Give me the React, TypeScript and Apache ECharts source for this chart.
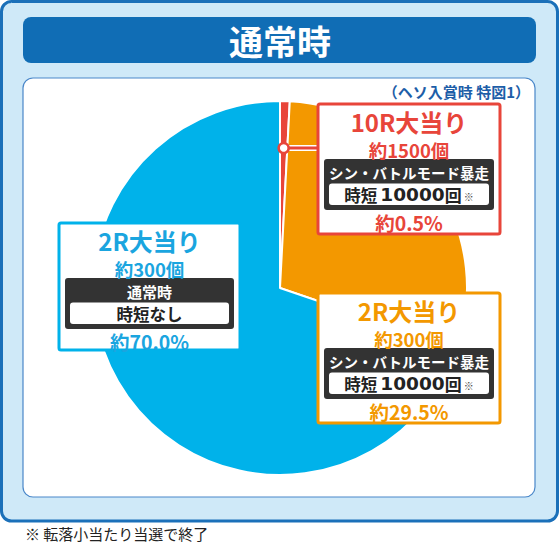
import React, { useEffect, useRef } from 'react';
import * as echarts from 'echarts';

const titleText = '通常時';
const subtitleText = '（ヘソ入賞時 特図1）';
const footnoteText = '※ 転落小当たり当選で終了';

// slice order: clockwise from 12 o'clock
const categories = ['10R大当り', '2R大当り', '2R大当り'];
const payouts = ['約1500個', '約300個', '約300個'];
const modes = ['シン・バトルモード暴走', 'シン・バトルモード暴走', '通常時'];
const jitanCounts: (number | null)[] = [10000, 10000, null];
const shares = [0.5, 29.5, 70.0];
const colors = ['#e8453a', '#f39800', '#00b2ea'];
const textColors = ['#e8453a', '#f39800', '#1aa5df'];

const CJK = "'Noto Sans CJK JP', 'Noto Sans', sans-serif";
const CX = 280;
const CY = 288;
const R = 187;
const MIN_ANGLE = 3;

function txt(x: number, y: number, text: string, size: number, fill: string, weight: any = 'bold', align = 'center', z = 12) {
  return {
    type: 'text',
    x,
    y,
    z,
    silent: true,
    style: { text, fontSize: size, lineHeight: Math.round(size * 0.95), fontWeight: weight, fontFamily: CJK, fill, align, verticalAlign: 'middle' },
  };
}

function jitanLabel(i: number, x: number, y: number) {
  const c = jitanCounts[i];
  if (c === null) return txt(x, y + 0.5, '時短なし', 16.5, '#222');
  return {
    type: 'text',
    x,
    y,
    z: 12,
    silent: true,
    style: {
      text: `{k|時短}{n|${c}}{h|回}{m|※}`,
      align: 'center',
      verticalAlign: 'middle',
      lineHeight: 17,
      rich: {
        k: { fontSize: 16.5, lineHeight: 17, fontWeight: 'bold', fontFamily: CJK, fill: '#222' },
        n: { fontSize: 18.5, lineHeight: 17, fontWeight: 'bold', fontFamily: "'DejaVu Sans', sans-serif", fill: '#222', padding: [0, 0, 0, 3] },
        h: { fontSize: 17, lineHeight: 17, fontWeight: 'bold', fontFamily: CJK, fill: '#222' },
        m: { fontSize: 10, lineHeight: 10, fontFamily: CJK, fill: '#444', padding: [4, 0, 0, 2] },
      },
    },
  };
}

function buildBox(i: number, bx: number, by: number, bw: number, bh: number) {
  const cx = bx + bw / 2;
  const color = colors[i];
  const tc = textColors[i];
  return [
    { type: 'rect', z: 10, silent: true, shape: { x: bx, y: by, width: bw, height: bh, r: 2 }, style: { fill: '#fff', stroke: color, lineWidth: 3 } },
    txt(cx, by + 17, categories[i], 24, tc),
    txt(cx, by + 45.5, payouts[i], 18.5, tc),
    { type: 'rect', z: 11, silent: true, shape: { x: bx + 6, y: by + 55, width: bw - 12, height: 51, r: 3 }, style: { fill: '#333333' } },
    txt(cx, by + 68.5, modes[i], i === 2 ? 15 : 14.5, '#fff'),
    { type: 'rect', z: 11, silent: true, shape: { x: bx + 11, y: by + 79.5, width: bw - 22, height: 21.5, r: 3 }, style: { fill: '#fff' } },
    jitanLabel(i, cx, by + 90.5),
    txt(cx, by + 118.5, `約${shares[i].toFixed(1)}%`, 19.5, tc),
  ];
}

export default function App() {
  const ref = useRef<HTMLDivElement>(null);
  useEffect(() => {
    const chart = echarts.init(ref.current!, undefined, { renderer: 'svg' });
    const redAngle = Math.max(shares[0] * 3.6, MIN_ANGLE);
    const midRad = ((redAngle / 2) * Math.PI) / 180;
    const mr = 140;
    const markerX = CX + mr * Math.sin(midRad);
    const markerY = CY - mr * Math.cos(midRad);

    const elements: any[] = [
      { type: 'rect', z: 0, silent: true, shape: { x: 1.5, y: 1.5, width: 556, height: 519.5, r: 10 }, style: { fill: '#cfe9f8', stroke: '#1b70b9', lineWidth: 3 } },
      { type: 'rect', z: 0, silent: true, shape: { x: 23, y: 17, width: 513, height: 46, r: 8 }, style: { fill: '#106db5' } },
      txt(280, 40.5, titleText, 34, '#fff', 'bold', 'center', 1),
      { type: 'rect', z: 0, silent: true, shape: { x: 23, y: 78, width: 512, height: 419, r: 10 }, style: { fill: '#fff', stroke: '#4a87c9', lineWidth: 1.2 } },
      txt(530, 91, subtitleText, 15, '#1d5ea8', 'bold', 'right', 1),
      txt(25, 533, footnoteText, 15, '#222', 'normal', 'left', 1),
      { type: 'line', z: 9, silent: true, shape: { x1: markerX, y1: markerY, x2: 318, y2: markerY }, style: { stroke: '#fff', lineWidth: 6 } },
      { type: 'line', z: 9, silent: true, shape: { x1: markerX, y1: markerY, x2: 318, y2: markerY }, style: { stroke: colors[0], lineWidth: 3 } },
      { type: 'circle', z: 9, silent: true, shape: { cx: markerX, cy: markerY, r: 5 }, style: { fill: '#fff', stroke: colors[0], lineWidth: 2.5 } },
      ...buildBox(0, 318, 104, 182, 130),
      ...buildBox(1, 318, 293, 182, 130),
      ...buildBox(2, 59, 223, 181, 127),
    ];

    chart.setOption({
      animation: false,
      graphic: { elements },
      series: [
        {
          type: 'pie',
          z: 2,
          silent: true,
          center: [CX, CY],
          radius: R,
          startAngle: 90,
          clockwise: true,
          minAngle: MIN_ANGLE,
          label: { show: false },
          labelLine: { show: false },
          itemStyle: { borderColor: '#fff', borderWidth: 2 },
          data: shares.map((v, i) => ({ value: v, name: categories[i], itemStyle: { color: colors[i] } })),
        },
      ],
    });
    return () => chart.dispose();
  }, []);
  return <div ref={ref} style={{ position: 'absolute', left: 0, top: 0, width: 560, height: 543 }} />;
}
